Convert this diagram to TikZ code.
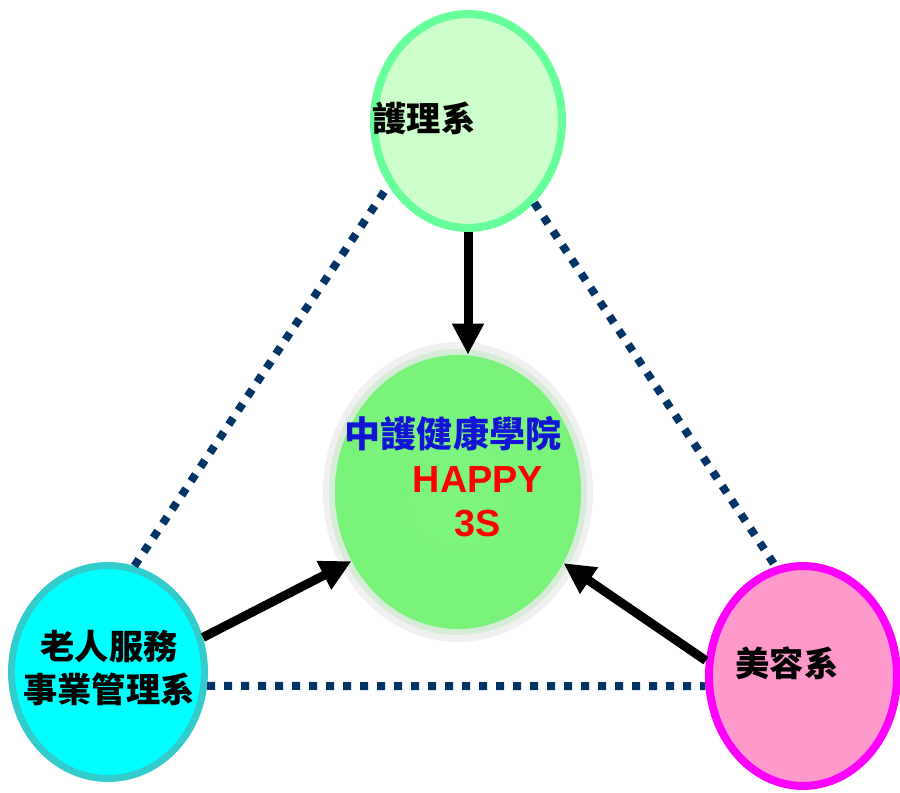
\documentclass[tikz,border=0pt]{standalone}
\usepackage{fontspec}
\setmainfont{Liberation Sans}
\newfontfamily\cjk{Noto Sans CJK TC}
\usetikzlibrary{shapes.geometric,arrows.meta}
\definecolor{navy}{HTML}{003366}
\definecolor{nursefill}{HTML}{CCFFCC}
\definecolor{nurseline}{HTML}{66FF99}
\definecolor{elderfill}{HTML}{00FFFF}
\definecolor{elderline}{HTML}{33CCCC}
\definecolor{beautyfill}{HTML}{FF99CC}
\definecolor{beautyline}{HTML}{FF00FF}
\definecolor{hubin}{RGB}{126,246,126}
\definecolor{hubout}{RGB}{120,242,120}
\definecolor{hubring}{RGB}{214,236,214}
\definecolor{titleblue}{RGB}{20,20,215}

\begin{document}
\begin{tikzpicture}[x=0.02cm,y=-0.02cm,
		dept/.style={ellipse,draw,inner sep=0},
		deptname/.style={font=\cjk\bfseries\fontsize{19.5}{25}\selectfont,inner sep=0,align=center},
		link/.style={draw=navy,line width=0.16cm,dash pattern=on 0.16cm off 0.18cm},
		feed/.style={line width=0.18cm,-{Triangle[length=0.62cm,width=0.6cm]}}]
		\useasboundingbox (0,0) rectangle (900,793);
		% departments
		\node [dept,fill=nursefill,draw=nurseline,line width=0.16cm,minimum width=3.76cm,minimum height=4.28cm] (nursing) at (468,121) {};
		\node [dept,fill=elderfill,draw=elderline,line width=0.14cm,minimum width=3.86cm,minimum height=4.26cm] (elder) at (108,672) {};
		\node [dept,fill=beautyfill,draw=beautyline,line width=0.16cm,minimum width=3.76cm,minimum height=4.4cm] (beauty) at (803,676) {};
		% hub with glow
		\fill [gray!12] (458,492) ellipse [x radius=2.7cm, y radius=3cm];
		\fill [hubring] (458,492) ellipse [x radius=2.58cm, y radius=2.86cm];
		\node [ellipse,inner sep=0,inner color=hubin,outer color=hubout,minimum width=4.92cm,minimum height=5.48cm] (hub) at (458,492) {};
		% dotted links
		\draw [link] (elder.76) -- (nursing.219);
		\draw [link] (nursing.309) -- (beauty.104);
		\draw [link] (elder.352) -- (beauty.186);
		% arrows into the hub
		\draw [feed] (nursing.south) -- (nursing.south |- hub.north);
		\draw [feed] (elder.20) -- (hub.213);
		\draw [feed] (beauty.171) -- (hub.326);
		% texts
		\node [deptname] (nursingname) at (424,118) {護理系};
		\node [deptname] (eldername) at (109,668) {老人服務\\事業管理系};
		\node [deptname] (beautyname) at (787,663) {美容系};
		\node [deptname,text=titleblue,font=\cjk\bfseries\fontsize{20.5}{25}\selectfont] (title) at (453,434) {中護健康學院};
		\node [text=red,font=\bfseries\fontsize{21.5}{26}\selectfont,inner sep=0] (happy) at (478,480) {HAPPY};
		\node [text=red,font=\bfseries\fontsize{21.5}{26}\selectfont,inner sep=0] (threes) at (478,524) {3S};
	\end{tikzpicture}
\end{document}
